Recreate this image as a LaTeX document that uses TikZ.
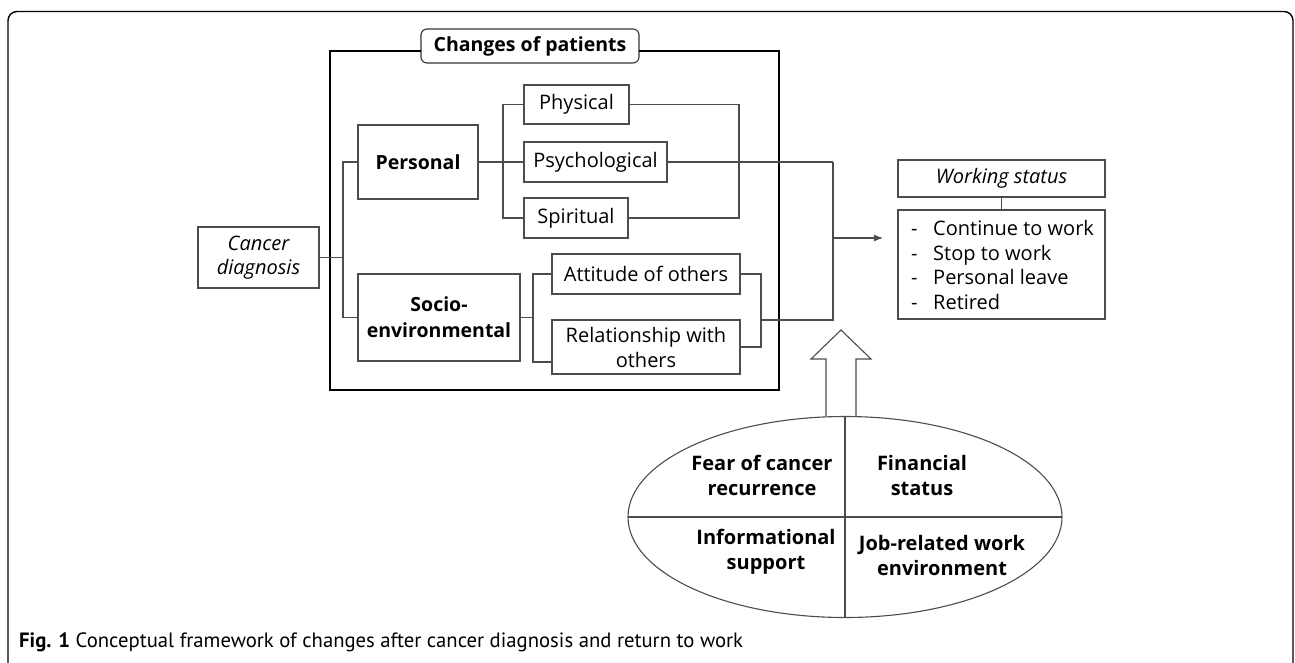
\documentclass[tikz,border=0pt]{standalone}
\usepackage{fontspec}
\setmainfont{Open Sans}
\newfontfamily\capfont{PT Sans}
\usetikzlibrary{arrows.meta,shapes.geometric}
\tikzset{
  lbox/.style={draw=black!70, line width=1.1pt, inner sep=0pt, outer sep=0pt, align=center,
    font=\fontsize{20}{25}\selectfont},
  bbox/.style={lbox, font=\fontsize{19.5}{26}\selectfont\bfseries},
  ibox/.style={lbox, font=\fontsize{20}{24}\selectfont\itshape},
  conn/.style={draw=black!70, line width=1.1pt},
  qtext/.style={align=center, inner sep=0pt, font=\fontsize{20}{25}\selectfont\bfseries},
}
\begin{document}
\begin{tikzpicture}[x=1pt,y=-1pt]
\useasboundingbox (0,0) rectangle (1295,662);
% outer frame
\draw[line width=1.4pt, rounded corners=9pt] (8,665) -- (8,11.5) -- (1293,11.5) -- (1293,665);
% caption
\node[anchor=base west, inner sep=0pt, font=\capfont\fontsize{20.7}{22}\selectfont] (cap) at (19,647)
  {\textbf{Fig. 1} Conceptual framework of changes after cancer diagnosis and return to work};

% coordinates of buses
\coordinate (tl) at (330,51);
\coordinate (br) at (779,390);
\coordinate (b1) at (343,0);
\coordinate (b2) at (503,0);
\coordinate (b3) at (739,0);
\coordinate (b4) at (533,0);
\coordinate (b6) at (761,0);
\coordinate (b5) at (833,0);

% nodes
\node[bbox, draw=black!80, rounded corners=6pt, minimum width=218pt, minimum height=34pt, fill=white] (chg) at (530,46) {Changes of patients};
\node[ibox, minimum width=121pt, minimum height=61pt] (cd) at (258.5,257.5) {Cancer\\diagnosis};
\node[bbox, minimum width=120pt, minimum height=74pt] (pers) at (418,162) {Personal};
\node[bbox, minimum width=162pt, minimum height=87pt] (socio) at (439,317.5) {Socio-\\environmental};
\node[lbox, minimum width=105pt, minimum height=39pt] (phys) at (576.5,104.5) {Physical};
\node[lbox, minimum width=143pt, minimum height=40pt] (psych) at (595.5,162) {Psychological};
\node[lbox, minimum width=104pt, minimum height=40pt] (spir) at (576,218) {Spiritual};
\node[lbox, minimum width=188pt, minimum height=40pt] (att) at (646,274) {Attitude of others};
\node[lbox, minimum width=188pt, minimum height=54pt] (rel) at (646,347) {Relationship with\\others};
\node[ibox, minimum width=207pt, minimum height=37pt] (ws) at (1001.5,178.5) {Working status};
\node[lbox, minimum width=207pt, minimum height=109pt] (list) at (1001.5,264.5) {};
\node[anchor=west, inner sep=0pt, align=left, font=\fontsize{20}{24.5}\selectfont] (items) at (911,265)
  {\makebox[22pt][l]{-}Continue to work\\\makebox[22pt][l]{-}Stop to work\\\makebox[22pt][l]{-}Personal leave\\\makebox[22pt][l]{-}Retired};

% thick frame of changes
\draw[line width=2.8pt] (chg.west |- tl) -- (tl) |- (br) |- (chg.east |- tl);

% connectors
\draw[conn] (cd.east) -- (cd.east -| b1);
\draw[conn] (pers.west) -- (pers.west -| b1) -- (socio.west -| b1) -- (socio.west);
\draw[conn] (pers.east) -- (psych.west);
\draw[conn] (phys.west) -- (phys.west -| b2) -- (spir.west -| b2) -- (spir.west);
\draw[conn] (phys.east) -- (phys.east -| b3) -- (spir.east -| b3) -- (spir.east);
\draw[conn] (psych.east) -- (psych.east -| b5);
\coordinate (rj) at (552,362);
\draw[conn] (socio.east) -- (socio.east -| b4);
\draw[conn] (att.west) -- (att.west -| b4) |- (rj);
\draw[conn] (att.east) -- (att.east -| b6) -- (rel.east -| b6) -- (rel.east);
\coordinate (jr) at (761,320);
\draw[conn] (jr) -- (jr -| b5) -- (psych.east -| b5);
\coordinate (ae) at (883,238);
\draw[conn, -{Latex[length=9pt,width=7pt]}] (ae -| b5) -- (ae);
\draw[conn] (ws.south) -- (list.north);

% ellipse
\node[ellipse, draw=black!70, line width=1.1pt, minimum width=434pt, minimum height=201pt, inner sep=0pt, outer sep=0pt] (el) at (845,517) {};
\draw[conn] (el.north) -- (el.south);
\draw[conn] (el.west) -- (el.east);
\node[qtext] (q1) at (762,475.5) {Fear of cancer\\recurrence};
\node[qtext] (q2) at (922,475.5) {Financial\\status};
\node[qtext] (q3) at (766,551.5) {Informational\\support};
\node[qtext] (q4) at (942,555.5) {Job-related work\\environment};

% hollow arrow
\draw[conn, line join=miter] (el.north -| 826,0) -- (826,359) -- (811,359) -- (841,330) -- (871,359) -- (856,359) -- (el.north -| 856,0);
\end{tikzpicture}
\end{document}
